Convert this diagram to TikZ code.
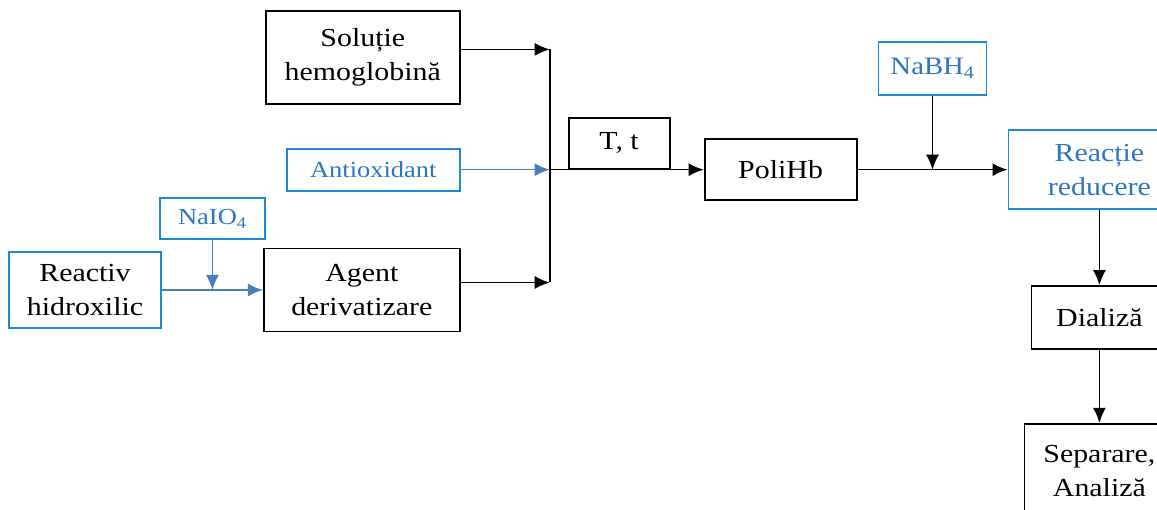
\documentclass[tikz,border=0pt]{standalone}
\usepackage{fontspec}
\setmainfont{Liberation Serif}[FakeStretch=1.15]
\usetikzlibrary{arrows.meta, positioning, calc}
\definecolor{rblue}{HTML}{1E88D8}
\definecolor{rtext}{HTML}{2E75C0}
\definecolor{rflow}{HTML}{4A7EBB}
\tikzstyle{stage} = [rectangle, draw=black, line width=1.8pt, text centered, font=\fontsize{26}{34}\selectfont]
\tikzstyle{reagent} = [rectangle, draw=rblue, line width=1.8pt, text=rtext, text centered, font=\fontsize{26}{34}\selectfont]
\tikzstyle{feed} = [line width=1.6pt, -{Latex[length=15pt,width=13pt]}]
\tikzstyle{bluefeed} = [feed, draw=rflow]
\begin{document}
\begin{tikzpicture}[x=1pt, y=1pt, align=center, inner sep=0pt]
\clip (0,0) rectangle (1157,-510);
\node (reactiv) [reagent, text=black, minimum width=152pt, minimum height=76pt] at (85,-290) {Reactiv\\hidroxilic};
\node (agent) [stage, minimum width=196pt, minimum height=83pt, right=101pt of reactiv] {Agent\\derivatizare};
\node (antiox) [reagent, minimum width=173pt, minimum height=42pt, font=\fontsize{23}{28}\selectfont, above=56pt of agent.north east, anchor=south east] {Antioxidant};
\node (solutie) [stage, minimum width=194pt, minimum height=93pt, above=43pt of antiox.north east, anchor=south east] {Soluție\\hemoglobină};
\coordinate (dose1) at ($(reactiv.east)!0.5!(agent.west)$);
\node (naio) [reagent, minimum width=105pt, minimum height=41pt, font=\fontsize{23}{28}\selectfont, above=50pt of dose1] {NaIO\textsubscript{4}};
\coordinate (join) at ([xshift=89pt]antiox.east);
\node (tt) [stage, minimum width=101pt, minimum height=51pt, anchor=south west] at ([xshift=18pt]join) {T, t};
\node (polihb) [stage, minimum width=152pt, minimum height=61pt, right=154pt of join] {PoliHb};
\node (reactie) [reagent, minimum width=182pt, minimum height=79pt, right=150pt of polihb] {Reacție\\reducere};
\coordinate (dose2) at ($(polihb.east)!0.5!(reactie.west)$);
\node (nabh) [reagent, minimum width=108pt, minimum height=53pt, font=\fontsize{25}{30}\selectfont, above=74pt of dose2] {NaBH\textsubscript{4}};
\node (dializa) [stage, minimum width=136pt, minimum height=63pt, below=75pt of reactie] {Dializă};
\node (separare) [stage, minimum width=150pt, minimum height=95pt, below=73pt of dializa] {Separare,\\Analiză};
\coordinate (soltap) at ([yshift=8pt]solutie.east);
\coordinate (agtap) at ([yshift=7.5pt]agent.east);
\draw [feed] (soltap) -- (soltap -| join);
\draw [feed] (agtap) -- (agtap -| join);
\draw [line width=1.6pt] (soltap -| join) -- (agtap -| join);
\draw [bluefeed] (antiox) -- (join);
\draw [feed] (join) -- (polihb);
\draw [bluefeed] (reactiv) -- (agent);
\draw [bluefeed] (naio) -- (dose1);
\draw [feed] (polihb) -- (reactie);
\draw [feed] (nabh) -- (dose2);
\draw [feed] (reactie) -- (dializa);
\draw [feed] (dializa) -- (separare);
\end{tikzpicture}
\end{document}
